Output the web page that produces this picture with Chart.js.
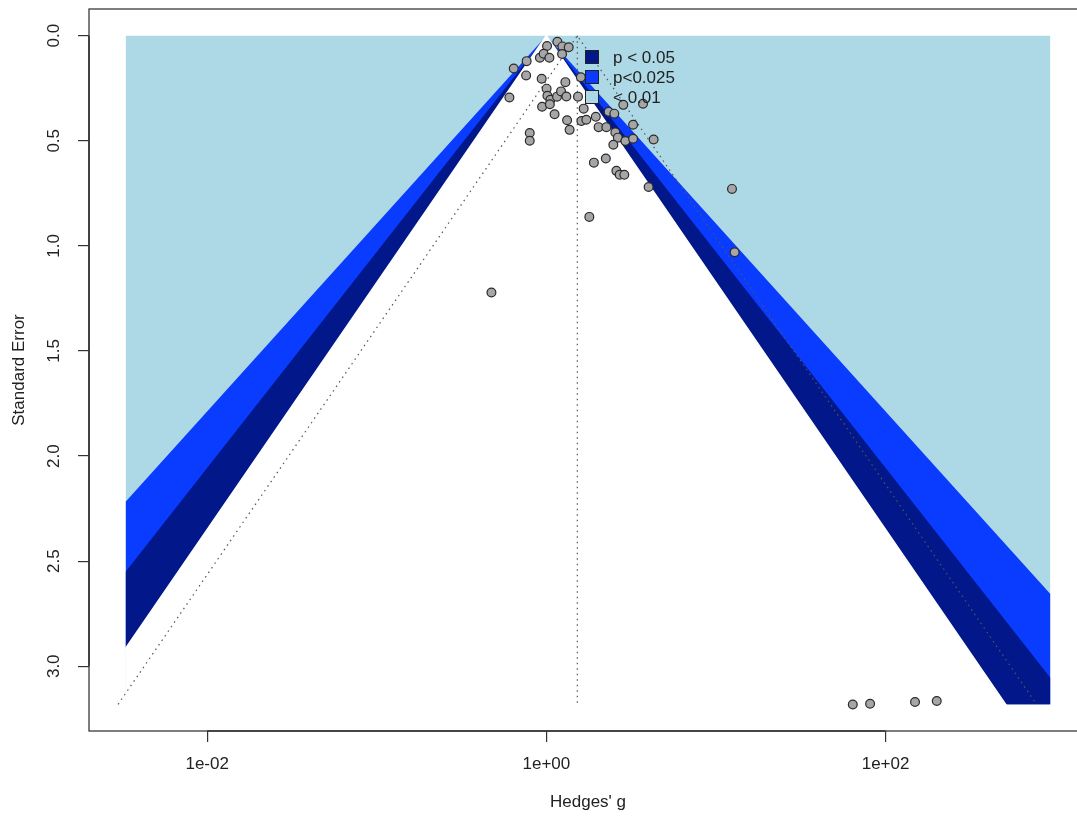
<!DOCTYPE html>
<html>
<head>
<meta charset="utf-8">
<script src="https://cdn.jsdelivr.net/npm/chart.js@4.4.1/dist/chart.umd.min.js"></script>
<style>
  html, body { margin: 0; padding: 0; overflow: hidden; background: #fff; }
</style>
</head>
<body>
<canvas id="funnelChart" width="1100" height="817"></canvas>
<script>
// study effects on the log scale (ln of Hedges' g) and their standard errors
var yiValues = [0.009, 0.149, 0.217, 0.303, -0.088, -0.037, 0.041, 0.213, -0.268, -0.443,
                -0.275, -0.064, 0.258, 0.003, 0.014, 0.054, 0.145, 0.199, 0.271, 0.429,
                0.468, -0.502, -0.058, 0.047, 0.111, 0.506, 0.281, 0.315, 0.475, 0.542,
                0.671, 0.709, 0.814, 0.845, 0.922, 1.044, 1.312, 0.936, 0.970, 1.072,
                1.177, 1.177, 1.456, 0.909, 0.645, 0.807, 0.950, 0.995, 1.058, 1.388,
                0.583, -0.746, -0.226, -0.226, 2.520, 2.556, 4.160, 4.395, 5.005, 5.300];
var seValues = [0.049, 0.029, 0.051, 0.055, 0.105, 0.086, 0.105, 0.087, 0.121, 0.156,
                0.189, 0.205, 0.221, 0.252, 0.286, 0.305, 0.290, 0.265, 0.289, 0.290,
                0.198, 0.294, 0.338, 0.326, 0.374, 0.347, 0.402, 0.448, 0.406, 0.400,
                0.386, 0.435, 0.435, 0.362, 0.371, 0.329, 0.324, 0.460, 0.485, 0.501,
                0.490, 0.424, 0.494, 0.519, 0.604, 0.584, 0.643, 0.662, 0.662, 0.720,
                0.862, 1.222, 0.463, 0.500, 0.729, 1.030, 3.182, 3.178, 3.170, 3.165];

var pooledEstimate = 0.42;
var seMax = 3.181;
var shadeLimits = [-5.71, 6.84];
var contourZ = [1.96, 2.24, 2.576];
var contourColors = ['#02188a', '#0a3cff', '#add8e6'];
var legendLabels = ['p < 0.05', 'p<0.025', '< 0.01'];

var xTickValues = [Math.log(0.01), 0, Math.log(100)];
var xTickLabels = ['1e-02', '1e+00', '1e+02'];
var yTickValues = [0, 0.5, 1, 1.5, 2, 2.5, 3];
var yTickLabels = ['0.0', '0.5', '1.0', '1.5', '2.0', '2.5', '3.0'];

var FONT = 'Liberation Sans';

// region where |effect| < z * se, cut at the shading limits
function contourShape(z) {
  var lo = shadeLimits[0], hi = shadeLimits[1];
  var pts = [];
  if (z * seMax > -lo) {
    pts.push({x: lo, y: seMax});
    pts.push({x: lo, y: -lo / z});
  } else {
    pts.push({x: -z * seMax, y: seMax});
  }
  pts.push({x: 0, y: 0});
  if (z * seMax > hi) {
    pts.push({x: hi, y: hi / z});
    pts.push({x: hi, y: seMax});
  } else {
    pts.push({x: z * seMax, y: seMax});
  }
  return pts;
}

function shapeDataset(points, color, order, edge) {
  var pts = points.slice();
  if (edge) pts.push(points[0]);   // close the outline so the edge stroke covers the bottom
  return {
    type: 'line',
    data: pts,
    fill: 'shape',
    backgroundColor: color,
    borderColor: edge || 'transparent',
    borderWidth: edge ? 1.5 : 0,
    pointRadius: 0,
    tension: 0,
    order: order
  };
}

function dottedDataset(points) {
  return {
    type: 'line',
    data: points,
    fill: false,
    borderColor: '#555',
    borderWidth: 1.2,
    borderDash: [1.5, 4],
    pointRadius: 0,
    tension: 0,
    order: 1
  };
}

var studyPoints = yiValues.map(function (v, i) { return {x: v, y: seValues[i]}; });

var datasets = [
  {
    type: 'scatter',
    data: studyPoints,
    pointRadius: 4.4,
    pointBackgroundColor: '#a6a6a6',
    pointBorderColor: '#2a2a2a',
    pointBorderWidth: 1.2,
    order: 0
  },
  dottedDataset([{x: pooledEstimate, y: 0}, {x: pooledEstimate, y: seMax}]),
  dottedDataset([{x: pooledEstimate - 1.96 * seMax, y: seMax}, {x: pooledEstimate, y: 0},
                 {x: pooledEstimate + 1.96 * seMax, y: seMax}]),
  shapeDataset(contourShape(contourZ[0]), '#ffffff', 2, '#ffffff'),
  shapeDataset(contourShape(contourZ[1]), contourColors[0], 3),
  shapeDataset(contourShape(contourZ[2]), contourColors[1], 4),
  shapeDataset([{x: shadeLimits[0], y: 0}, {x: shadeLimits[1], y: 0},
                {x: shadeLimits[1], y: seMax}, {x: shadeLimits[0], y: seMax}], contourColors[2], 5)
];

// box around plot, axis line between outer ticks, and legend
var frameAndLegend = {
  id: 'frameAndLegend',
  afterDatasetsDraw: function (chart) {
    var ctx = chart.ctx;
    var a = chart.chartArea;
    var xs = chart.scales.x;
    var ys = chart.scales.y;
    ctx.save();
    ctx.strokeStyle = '#3a3a3a';
    ctx.lineWidth = 1.3;
    ctx.strokeRect(a.left, a.top, a.right - a.left, a.bottom - a.top);

    ctx.lineWidth = 1.6;
    ctx.strokeStyle = '#333';
    ctx.beginPath();
    ctx.moveTo(xs.getPixelForValue(xTickValues[0]), a.bottom);
    ctx.lineTo(xs.getPixelForValue(xTickValues[xTickValues.length - 1]), a.bottom);
    ctx.moveTo(a.left, ys.getPixelForValue(yTickValues[0]));
    ctx.lineTo(a.left, ys.getPixelForValue(yTickValues[yTickValues.length - 1]));
    ctx.stroke();

    // legend
    ctx.font = '17px "' + FONT + '"';
    ctx.textAlign = 'left';
    ctx.textBaseline = 'middle';
    for (var i = 0; i < legendLabels.length; i++) {
      var cy = 57 + i * 20;
      ctx.fillStyle = contourColors[i];
      ctx.fillRect(585.5, cy - 6.5, 13, 13);
      ctx.strokeStyle = '#222';
      ctx.lineWidth = 1;
      ctx.strokeRect(585.5, cy - 6.5, 13, 13);
      ctx.fillStyle = '#222';
      ctx.fillText(legendLabels[i], 613, cy + 1);
    }
    ctx.restore();
  }
};

new Chart(document.getElementById('funnelChart').getContext('2d'), {
  type: 'scatter',
  data: { datasets: datasets },
  options: {
    responsive: false,
    animation: false,
    devicePixelRatio: 1,
    layout: { padding: { top: 9, right: 13, left: 0, bottom: 0 } },
    plugins: {
      legend: { display: false },
      tooltip: { enabled: false }
    },
    scales: {
      x: {
        type: 'linear',
        min: -6.21,
        max: 7.34,
        afterBuildTicks: function (scale) {
          scale.ticks = xTickValues.map(function (v) { return {value: v}; });
        },
        afterFit: function (scale) {
          scale.height = 86;
          scale.paddingLeft = 0;
          scale.paddingRight = 0;
        },
        ticks: {
          padding: 12,
          color: '#222',
          font: { family: FONT, size: 17 },
          callback: function (value, index) { return xTickLabels[index]; }
        },
        grid: { drawOnChartArea: false, drawTicks: true, tickLength: 11, color: '#333', lineWidth: 1.2 },
        border: { display: false },
        title: {
          display: true,
          text: "Hedges' g",
          color: '#222',
          font: { family: FONT, size: 17 },
          padding: { top: 4, bottom: 4 }
        }
      },
      y: {
        type: 'linear',
        reverse: true,
        min: -0.127,
        max: 3.308,
        afterBuildTicks: function (scale) {
          scale.ticks = yTickValues.map(function (v) { return {value: v}; });
        },
        afterFit: function (scale) {
          scale.width = 89;
          scale.paddingTop = 0;
          scale.paddingBottom = 0;
        },
        ticks: {
          padding: 12,
          minRotation: 90,
          maxRotation: 90,
          crossAlign: 'center',
          color: '#222',
          font: { family: FONT, size: 17 },
          callback: function (value, index) { return yTickLabels[index]; }
        },
        grid: { drawOnChartArea: false, drawTicks: true, tickLength: 11, color: '#333', lineWidth: 1.2 },
        border: { display: false },
        title: {
          display: true,
          text: 'Standard Error',
          color: '#222',
          font: { family: FONT, size: 17 },
          padding: { top: 9, bottom: 4 }
        }
      }
    }
  },
  plugins: [frameAndLegend]
});
</script>
</body>
</html>
